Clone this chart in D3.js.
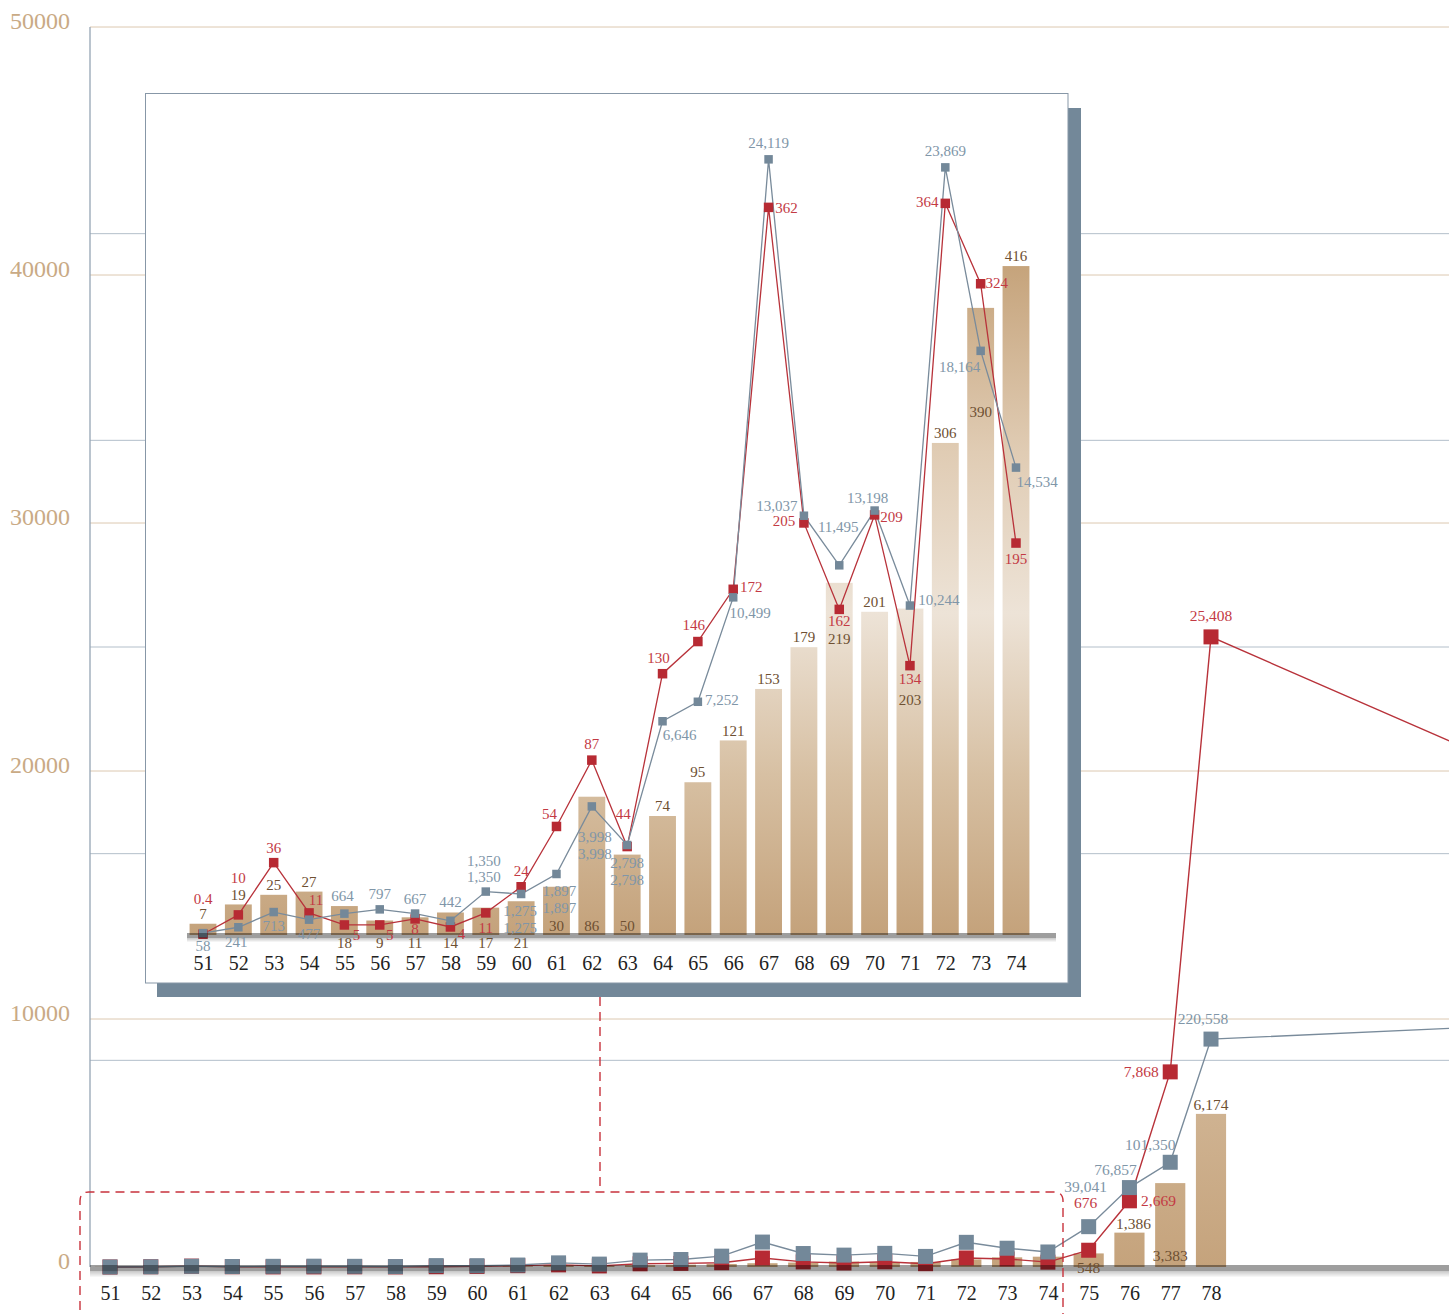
<!DOCTYPE html>
<html><head><meta charset="utf-8">
<script src="https://cdn.jsdelivr.net/npm/d3@7/dist/d3.min.js"></script>
<style>
html,body{margin:0;padding:0;background:#fff;overflow:hidden}
svg{display:block;font-family:"Liberation Serif","Times New Roman",serif}
</style></head><body>
<svg id="c" width="1449" height="1314"></svg>
<script>
// ---------------- DATA ----------------
const years      = [51,52,53,54,55,56,57,58,59,60,61,62,63,64,65,66,67,68,69,70,71,72,73,74,75,76,77,78];
const barValues  = [7,19,25,27,18,9,11,14,17,21,30,86,50,74,95,121,153,179,219,201,203,306,390,416,548,1386,3383,6174];
const redValues  = [0.4,10,36,11,5,5,8,4,11,24,54,87,44,130,146,172,362,205,162,209,134,364,324,195,676,2669,7868,25408];
const grayValues = [58,241,713,477,664,797,667,442,1350,1275,1897,3998,2798,6646,7252,10499,24119,13037,11495,13198,10244,23869,18164,14534,39041,76857,101350,220558];
// line continues to a point beyond the right edge
const tailYear = 84;
const tailRed  = 21100;
const tailGray = 231200;
const insetYears = [51,52,53,54,55,56,57,58,59,60,61,62,63,64,65,66,67,68,69,70,71,72,73,74];
const grayDupYears = [59,60,61,62,63];
const mainLabelYears = [75,76,77,78];
const yTicksMain = [0,10000,20000,30000,40000,50000];
const grayGridTicks = [200000,400000,600000,800000,1000000];

// ---------------- LABEL LAYOUT (offsets of label centres) ----------------
const insetBarLabelPos = ['t','t','t','t','u','u','u','u','u','u','i','i','i','t','t','t','t','t',56,'t',91,'t',104,'t'];
const insetRedLabelOff = [[0,-35],[0,-37],[0,-15],[7,-13],[12,10],[10,10],[0,10],[11,7],[0,15],[0,-16],[-7,-13],[0,-16],[-4,-33],[-4,-16],[-4,-17],[18,-2],[18,1],[-20,-2],[0,12],[17,2],[0,13],[-18,-1],[16,-1],[0,16]];
const insetGrayLabelOff = [[0,13],[-2,15],[0,14],[0,14],[-2,-18],[0,-15],[0,-15],[0,-19],[-2,-15],[-1,17],[3,17],[3,30],[0,18],[17,14],[24,-2],[17,16],[0,-16],[-27,-10],[-1,-38],[-7,-13],[29,-6],[0,-16],[-21,16],[21,14]];
const insetGrayDupOff = [[-2,-31],[-1,34],[3,34],[3,47],[0,35]];
const mainBarLabelOff  = [[0,14],[4,-9],[0,73],[0,-9]];
const mainRedLabelOff  = [[-3,-48],[29,0],[-29,0],[0,-21]];
const mainGrayLabelOff = [[-3,-40],[-14,-18],[-20,-18],[-8,-20]];

// ---------------- COLOURS ----------------
const C = {
  red:'#b72a33', redLine:'#b8323a', redText:'#c33a44',
  gray:'#738899', grayLine:'#798b9b', grayText:'#8096a8',
  barText:'#6e5032', tan:'#c8a882', tanGrid:'#dcc8b0', grayGrid:'#b3bfca',
  axis:'#95a5b4', cat:'#222'
};

const svg = d3.select('#c');
const defs = svg.append('defs');
const fmt = d3.format(',');

// scales - main
const xM = d3.scaleLinear().domain([51,78]).range([110,1211]);
const stepM = xM(52)-xM(51);
const bwM = stepM*0.74;
const yM = d3.scaleLinear().domain([0,50000]).range([1267,27]);
const yGM = d3.scaleLinear().domain([0,1200000]).range([1267,27]);

// scales - inset
const xI = d3.scaleLinear().domain([51,74]).range([203,1016]);
const stepI = xI(52)-xI(51);
const bwI = stepI*0.76;
const yBI = d3.scaleLinear().domain([0,500]).range([935,131]);
const yRI = d3.scaleLinear().domain([0,400]).range([935,131]);
const yGI = d3.scaleLinear().domain([0,25000]).range([935,131]);

// gradients
const gIn = defs.append('linearGradient').attr('id','gIn').attr('gradientUnits','userSpaceOnUse')
  .attr('x1',0).attr('x2',0).attr('y1',yBI(500)).attr('y2',yBI(0));
[[0,'#c09b71'],[0.17,'#c6a47c'],[0.4,'#e0ccb4'],[0.6,'#ede3d7'],[0.8,'#d7c0a3'],[1,'#c4a27b']]
  .forEach(s=>gIn.append('stop').attr('offset',s[0]).attr('stop-color',s[1]));
const gM = defs.append('linearGradient').attr('id','gM').attr('gradientUnits','userSpaceOnUse')
  .attr('x1',0).attr('x2',0).attr('y1',1100).attr('y2',1267);
[[0,'#d0b493'],[1,'#c5a37c']].forEach(s=>gM.append('stop').attr('offset',s[0]).attr('stop-color',s[1]));
const gShade = defs.append('linearGradient').attr('id','gShade').attr('x1',0).attr('x2',0).attr('y1',0).attr('y2',1);
[[0,'rgba(0,0,0,0.22)'],[1,'rgba(0,0,0,0.02)']].forEach(s=>gShade.append('stop').attr('offset',s[0]).attr('stop-color',s[1]));

// ---------------- MAIN CHART ----------------
const main = svg.append('g');
main.selectAll('.tg').data(yTicksMain.filter(d=>d>0)).join('line')
  .attr('x1',90).attr('x2',1449).attr('y1',d=>yM(d)).attr('y2',d=>yM(d))
  .attr('stroke',C.tanGrid).attr('stroke-width',1);
main.selectAll('.gg').data(grayGridTicks).join('line')
  .attr('x1',90).attr('x2',1449).attr('y1',d=>yGM(d)).attr('y2',d=>yGM(d))
  .attr('stroke',C.grayGrid).attr('stroke-width',1);
main.append('line').attr('x1',90).attr('x2',90).attr('y1',yM(50000)).attr('y2',yM(0))
  .attr('stroke',C.axis).attr('stroke-width',1.3);

const yAx = main.append('g').attr('transform','translate(90,0)')
  .call(d3.axisLeft(yM).tickValues(yTicksMain).tickFormat(d3.format('d')).tickSize(0).tickPadding(20));
yAx.select('.domain').remove();
yAx.selectAll('text').attr('fill','#c9aa85').attr('font-size',24).attr('dy','0.06em')
  .style('font-family','"Liberation Serif",serif');

const mainData = years.map((y,i)=>({year:y,bar:barValues[i],red:redValues[i],gray:grayValues[i]}));
main.selectAll('.mb').data(mainData).join('rect')
  .attr('x',d=>xM(d.year)-bwM/2).attr('width',bwM)
  .attr('y',d=>yM(d.bar)).attr('height',d=>yM(0)-yM(d.bar)).attr('fill','url(#gM)');

const redMain = mainData.map(d=>({x:d.year,v:d.red})).concat([{x:tailYear,v:tailRed}]);
const grayMain = mainData.map(d=>({x:d.year,v:d.gray})).concat([{x:tailYear,v:tailGray}]);
main.append('path').datum(redMain)
  .attr('d',d3.line().x(d=>xM(d.x)).y(d=>yM(d.v)))
  .attr('fill','none').attr('stroke',C.redLine).attr('stroke-width',1.4);
main.append('path').datum(grayMain)
  .attr('d',d3.line().x(d=>xM(d.x)).y(d=>yGM(d.v)))
  .attr('fill','none').attr('stroke',C.grayLine).attr('stroke-width',1.4);
const msM = 15;
main.selectAll('.mr').data(mainData).join('rect')
  .attr('x',d=>xM(d.year)-msM/2).attr('y',d=>yM(d.red)-msM/2).attr('width',msM).attr('height',msM)
  .attr('fill',C.red);
main.selectAll('.mg').data(mainData).join('rect')
  .attr('x',d=>xM(d.year)-msM/2).attr('y',d=>yGM(d.gray)-msM/2).attr('width',msM).attr('height',msM)
  .attr('fill',C.gray);

main.append('rect').attr('x',90).attr('width',1449-90).attr('y',yM(0)-2).attr('height',6)
  .attr('fill','rgba(0,0,0,0.38)');
main.append('rect').attr('x',90).attr('width',1449-90).attr('y',yM(0)+4).attr('height',6)
  .attr('fill','url(#gShade)');

const mainLab = mainData.filter(d=>mainLabelYears.includes(d.year));
function txt(g,x,y,s,col,size){
  g.append('text').attr('x',x).attr('y',y).attr('dy','0.34em').attr('text-anchor','middle')
    .attr('font-size',size).attr('fill',col).text(s);
}
mainLab.forEach((d,i)=>{
  const x = xM(d.year);
  txt(main, x+mainBarLabelOff[i][0], yM(d.bar)+mainBarLabelOff[i][1], fmt(d.bar), C.barText, 15.5);
  txt(main, x+mainRedLabelOff[i][0], yM(d.red)+mainRedLabelOff[i][1], fmt(d.red), C.redText, 15.5);
  txt(main, x+mainGrayLabelOff[i][0], yGM(d.gray)+mainGrayLabelOff[i][1], fmt(d.gray), C.grayText, 15.5);
});

const xAx = main.append('g').attr('transform',`translate(0,${yM(0)})`)
  .call(d3.axisBottom(xM).tickValues(years).tickFormat(d3.format('d')).tickSize(0).tickPadding(19));
xAx.select('.domain').remove();
xAx.selectAll('text').attr('fill',C.cat).attr('font-size',20).style('font-family','"Liberation Serif",serif');

// ---------------- ZOOM MARKERS ----------------
const ann = svg.append('g');
ann.append('path')
  .attr('d','M80,1340 V1201 Q80,1192 89,1192 H1054 Q1063,1192 1063,1201 V1340')
  .attr('fill','none').attr('stroke','#c8323c').attr('stroke-width',1.4).attr('stroke-dasharray','9,6');
ann.append('line').attr('x1',600).attr('x2',600).attr('y1',997).attr('y2',1192)
  .attr('stroke','#c8323c').attr('stroke-width',1.4).attr('stroke-dasharray','9,6');

// ---------------- INSET ----------------
const inset = svg.append('g');
inset.append('rect').attr('x',157).attr('y',108).attr('width',1081-157).attr('height',997-108).attr('fill','#738899');
inset.append('rect').attr('x',145.5).attr('y',93.5).attr('width',1068-145.5).attr('height',983-93.5)
  .attr('fill','#fff').attr('stroke','#8797a7').attr('stroke-width',1);

const inData = insetYears.map((y,i)=>({year:y,bar:barValues[i],red:redValues[i],gray:grayValues[i],i}));
inset.selectAll('.ib').data(inData).join('rect')
  .attr('x',d=>xI(d.year)-bwI/2).attr('width',bwI)
  .attr('y',d=>yBI(d.bar)).attr('height',d=>yBI(0)-yBI(d.bar)).attr('fill','url(#gIn)');

inset.append('path').datum(inData)
  .attr('d',d3.line().x(d=>xI(d.year)).y(d=>yRI(d.red)))
  .attr('fill','none').attr('stroke',C.redLine).attr('stroke-width',1.3);
inset.append('path').datum(inData)
  .attr('d',d3.line().x(d=>xI(d.year)).y(d=>yGI(d.gray)))
  .attr('fill','none').attr('stroke',C.grayLine).attr('stroke-width',1.3);
const msI = 8.5;
inset.selectAll('.ir').data(inData).join('rect')
  .attr('x',d=>xI(d.year)-(msI+1)/2).attr('y',d=>yRI(d.red)-(msI+1)/2).attr('width',msI+1).attr('height',msI+1)
  .attr('fill',C.red);
inset.selectAll('.ig').data(inData).join('rect')
  .attr('x',d=>xI(d.year)-msI/2).attr('y',d=>yGI(d.gray)-msI/2).attr('width',msI).attr('height',msI)
  .attr('fill',C.gray);

inset.append('rect').attr('x',187).attr('width',1056-187).attr('y',yBI(0)-2).attr('height',5)
  .attr('fill','rgba(0,0,0,0.38)');
inset.append('rect').attr('x',187).attr('width',1056-187).attr('y',yBI(0)+3).attr('height',4)
  .attr('fill','url(#gShade)');

inData.forEach(d=>{
  const x = xI(d.year), i = d.i;
  const p = insetBarLabelPos[i];
  let by;
  if(p==='t') by = yBI(d.bar)-10;
  else if(p==='u') by = yBI(0)+8;
  else if(p==='i') by = yBI(0)-9;
  else by = yBI(d.bar)+p;
  txt(inset, x, by, fmt(d.bar), C.barText, 15);
  txt(inset, x+insetRedLabelOff[i][0], yRI(d.red)+insetRedLabelOff[i][1], fmt(d.red), C.redText, 15);
  txt(inset, x+insetGrayLabelOff[i][0], yGI(d.gray)+insetGrayLabelOff[i][1], fmt(d.gray), C.grayText, 15);
  const k = grayDupYears.indexOf(d.year);
  if(k>=0) txt(inset, x+insetGrayDupOff[k][0], yGI(d.gray)+insetGrayDupOff[k][1], fmt(d.gray), C.grayText, 15);
});

const xIAx = inset.append('g').attr('transform',`translate(0,${yBI(0)})`)
  .call(d3.axisBottom(xI).tickValues(insetYears).tickFormat(d3.format('d')).tickSize(0).tickPadding(21));
xIAx.select('.domain').remove();
xIAx.selectAll('text').attr('fill',C.cat).attr('font-size',20).style('font-family','"Liberation Serif",serif');
</script>
</body></html>
